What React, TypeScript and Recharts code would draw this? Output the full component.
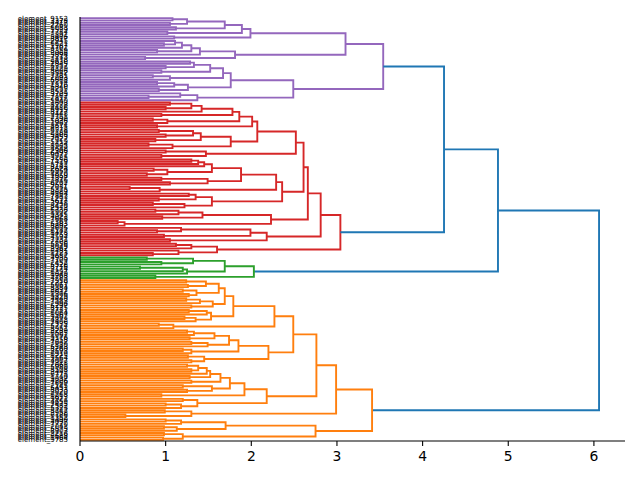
import { Line, LineChart, XAxis, YAxis } from 'recharts'

// Horizontal dendrogram: leaves on the left, root on the right.
// A node is [mergeHeight, upperChild, lowerChild]; 0 is a leaf.
type Node = 0 | [number, Node, Node]

const PURPLE: Node = [3.54,
  [3.10,
    [1.99, [1.89, [1.69, [1.25, [1.08, 0, 0], [1.05, 0, 0]], [1.12, 0, 0]], [1.02, 0, 0]], [1.10, 0, 0]],
    [1.81, [1.40, [1.30, [1.19, [1.11, 0, [0.98, 0, 0]], 0], [0.90, 0, 0]], 0], [0.76, 0, 0]]],
  [2.49,
    [1.76,
      [1.67, [1.52, [1.33, [1.285, 0, 0], [1.0, 0, 0]], [0.95, 0, 0]], [1.05, [0.85, 0, 0], 0]],
      [1.26, [1.1, [0.9, 0, 0], 0], [0.92, 0, 0]]],
    [1.37, [1.17, 0, [0.8, 0, 0]], 0]]]

const RED: Node = [3.04,
  [2.81,
    [2.66,
      [2.61,
        [2.52,
          [2.07,
            [2.01, [1.86, [1.78, [1.42, [1.30, [1.05, 0, 0], [1.0, 0, 0]], 0], [0.95, 0, 0]], [1.02, [0.85, 0, 0], 0]], [0.9, 0, 0]],
            [1.76, [1.41, [1.32, [0.92, 0, 0], [1.0, 0, 0]], [0.88, 0, 0]], [1.08, [0.8, 0, 0], 0]]],
          [1.47, [1.0, 0, 0], [0.95, 0, 0]]],
        [2.36,
          [2.29,
            [1.88,
              [1.54, [1.45, [1.38, [1.30, 0, 0], 0], 0], [1.02, [0.86, 0, 0], [0.78, 0, 0]]],
              [1.49, [0.95, 0, 0], [1.05, 0, 0]]],
            [0.93, [0.58, 0, 0], 0]],
          [1.54, [1.35, [1.27, 0, 0], [0.92, 0, 0]], [1.22, [0.85, 0, 0], 0]]]],
      [2.23, [1.43, [1.15, [0.88, 0, 0], 0], [0.96, 0, 0]], [0.52, [0.44, 0, 0], 0]]],
    [2.18, [1.99, [1.18, 0, [0.9, 0, 0]], [0.98, 0, 0]], [1.05, 0, 0]]],
  [1.60, [1.30, [1.12, 0, 0], 0], [1.15, 0, [0.85, 0, 0]]]]

const GREEN: Node = [2.03,
  [1.69, [1.32, [0.78, 0, 0], [0.95, 0, 0]], [1.25, [1.20, [0.7, 0, 0], 0], 0]],
  [0.88, 0, 0]]

const ORANGE: Node = [3.41,
  [2.99,
    [2.76,
      [2.49,
        [2.27,
          [1.79,
            [1.69,
              [1.62, [1.47, [1.24, 0, 0], [1.26, 0, 0]], [1.36, [1.2, 0, 0], [1.27, 0, 0]]],
              [1.55, [1.40, [1.24, 0, 0], 0], [1.30, 0, 0]]],
            [1.53, [1.48, [1.27, 0, 0], 0], [1.35, [1.22, 0, 0], 0]]],
          [1.09, [0.92, 0, 0], 0]],
        [2.20,
          [1.85,
            [1.74, [1.57, [1.33, [1.25, 0, 0], 0], [1.28, 0, 0]], [1.49, [1.3, 0, 0], 0]],
            [1.30, [1.2, 0, 0], 0]],
          [1.45, [1.26, 0, 0], [1.3, 0, 0]]]],
      [2.18,
        [1.92,
          [1.75,
            [1.64, [1.52, [1.48, [1.38, [1.25, 0, 0], [1.3, 0, 0]], 0], [1.28, 0, 0]], [1.3, 0, 0]],
            [1.54, [1.2, 0, 0], [1.25, 0, 0]]],
          [0.95, 0, 0]],
        [1.37, [1.2, 0, 0], [1.18, [1.0, 0, 0], 0]]]],
    [1.30, [0.99, 0, 0], [0.53, 0, 0]]],
  [2.75,
    [1.70, [1.18, [1.0, 0, 0], 0], [1.13, [0.98, 0, 0], 0]],
    [1.20, [0.98, 0, 0], [0.97, 0, 0]]]]

const TREE: Node = [6.06, [4.88, [4.25, PURPLE, RED], GREEN], ORANGE]

// leaf ids, top to bottom
const LEAF_IDS = [
  9152, 3378, 4417, 2260, 6083, 1529, 7734, 3891, 5406, 8817, 2945, 6621,
  1187, 4702, 8359, 3066, 5894, 7213, 2478, 9630, 1845, 6357, 4129, 8006,
  3542, 7781, 2093, 5668, 9214, 1376, 6840, 4255, 8531, 3709, 7162, 2817,
  5940, 1603, 8278, 4486, 6915, 3127, 9448, 2751, 7390, 5036, 1962, 8674,
  4311, 6578, 2189, 9806, 3453, 7027, 5219, 1734, 8965, 4648, 2306, 6493,
  9071, 3285, 7556, 1419, 5782, 8143, 2624, 6959, 4870, 1058, 7397, 3816,
  6202, 9527, 2031, 5375, 8689, 4164, 7843, 1291, 5617, 3948, 8420, 2573,
  6736, 1902, 9345, 4021, 7668, 2367, 5183, 8892, 3605, 6147, 1478, 9753,
  4594, 7231, 2708, 5856, 8049, 3362, 6481, 1123, 9687, 4935, 7109, 2452,
  5528, 8716, 3174, 6397, 1649, 9268, 4783, 7950, 2219, 5061, 8384, 3837,
  6612, 1306, 9829, 4440, 7583, 2996, 5297, 8125, 3731, 6064, 1567, 9402,
  4873, 7406, 2335, 5714, 8951, 3289, 6525, 1091, 9176, 4358, 7642, 2880,
  5143, 8260, 3593, 6919, 1225, 9564, 4007, 7318, 2661, 5980, 8508, 3442,
  6773, 1740, 9037, 4206, 7869, 2145, 5451, 8033, 3020, 6268, 1813, 9921,
  4659, 7475, 2582, 5323, 8747, 3958, 6186, 1352, 9490, 4097, 7720, 2043,
  5575, 8903, 3216, 6688, 1464, 9785,
]

const CLUSTER_COLORS = ['#9467bd', '#d62728', '#2ca02c', '#ff7f0e']
const ABOVE_COLOR = '#1f77b4'
const X_TICKS = [0, 1, 2, 3, 4, 5, 6]
const FONT = '"DejaVu Sans", sans-serif'

interface Pt { x: number; y: number | null }

function buildLinks(tree: Node) {
  const maxH = Array.isArray(tree) ? tree[0] : 0
  const threshold = 0.7 * maxH
  const leafPos: number[] = []
  const byColor: Record<string, Pt[]> = {}
  let cluster = 0

  const visit = (n: Node, color: string | null): { x: number; y: number } => {
    if (!Array.isArray(n)) {
      const y = 5 + 10 * leafPos.length
      leafPos.push(y)
      return { x: 0, y }
    }
    const [h, upper, lower] = n
    let c = color
    if (!c && h < threshold) c = CLUSTER_COLORS[cluster++ % CLUSTER_COLORS.length]
    const a = visit(upper, c)
    const b = visit(lower, c)
    const key = c ?? ABOVE_COLOR
    if (!byColor[key]) byColor[key] = []
    // U-shaped link, then a null point to break the path
    byColor[key].push(
      { x: a.x, y: a.y }, { x: h, y: a.y }, { x: h, y: b.y }, { x: b.x, y: b.y }, { x: b.x, y: null }
    )
    return { x: h, y: (a.y + b.y) / 2 }
  }
  visit(tree, null)
  return { leafPos, byColor, xMax: maxH * 1.05 }
}

const { leafPos, byColor, xMax } = buildLinks(TREE)
const yMax = leafPos.length * 10

const leafLabel = (v: number) => {
  const id = LEAF_IDS[Math.round((v - 5) / 10)]
  return id ? `element_${id}` : ''
}

// opacity < 1 keeps the tiny labels on grayscale antialiasing
function LeafTick(props: { x?: number; y?: number; payload?: { value: number } }) {
  const { x = 0, y = 0, payload } = props
  return (
    <text
      x={x}
      y={y}
      dy="0.355em"
      textAnchor="end"
      opacity={0.99}
      style={{ fill: '#000', stroke: 'none' }}
      fontSize={7}
      fontFamily={FONT}
    >
      {payload ? leafLabel(payload.value) : ''}
    </text>
  )
}

export default function App() {
  return (
    <div style={{ width: 640, height: 480, background: '#fff' }}>
      <style>{'body{margin:0}'}</style>
      <LineChart width={640} height={480} margin={{ top: 17, right: 15, bottom: 9, left: 0 }}>
        <XAxis
          type="number"
          dataKey="x"
          domain={[0, xMax]}
          ticks={X_TICKS}
          allowDataOverflow
          height={30}
          stroke="#000"
          axisLine={{ stroke: '#000', strokeWidth: 1.1 }}
          tickLine={{ stroke: '#000', strokeWidth: 1.1 }}
          tickSize={5}
          tickMargin={5.5}
          tick={{ fill: '#000', fontSize: 13.9, fontFamily: FONT }}
        />
        <XAxis
          xAxisId="top"
          orientation="top"
          type="number"
          domain={[0, xMax]}
          allowDataOverflow
          height={0}
          tick={false}
          tickLine={false}
          axisLine={{ stroke: '#000', strokeWidth: 1.1 }}
        />
        <YAxis
          type="number"
          domain={[0, yMax]}
          reversed
          allowDataOverflow
          ticks={leafPos}
          interval={0}
          width={80}
          tickLine={false}
          tickSize={0}
          tickMargin={12}
          axisLine={{ stroke: '#000', strokeWidth: 1.1 }}
          tick={<LeafTick />}
        />
        <YAxis
          yAxisId="right"
          orientation="right"
          type="number"
          domain={[0, yMax]}
          allowDataOverflow
          width={0}
          tick={false}
          tickLine={false}
          axisLine={{ stroke: '#000', strokeWidth: 1.1 }}
        />
        {Object.entries(byColor).map(([color, pts]) => (
          <Line
            key={color}
            data={pts}
            dataKey="y"
            stroke={color}
            strokeWidth={1.9}
            dot={false}
            activeDot={false}
            connectNulls={false}
            isAnimationActive={false}
          />
        ))}
      </LineChart>
    </div>
  )
}
